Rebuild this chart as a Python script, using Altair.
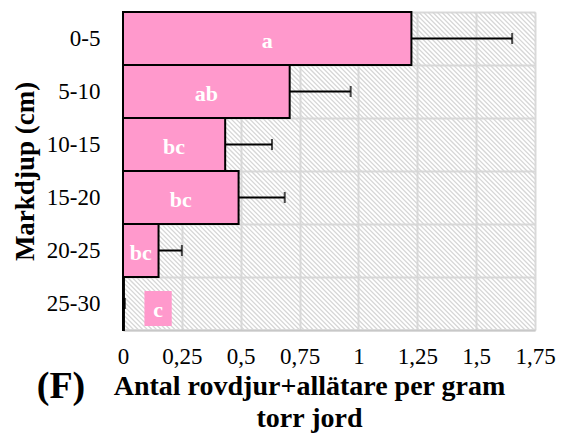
import altair as alt
import pandas as pd

# Mean number of predators + omnivores per gram dry soil, by soil depth
depths = ["0-5", "5-10", "10-15", "15-20", "20-25", "25-30"]
means = [1.225, 0.708, 0.434, 0.491, 0.151, 0.004]
upper = [1.653, 0.967, 0.633, 0.687, 0.250, 0.008]   # mean + standard error
letters = ["a", "ab", "bc", "bc", "bc", "c"]
x_ticks = [0, 0.25, 0.5, 0.75, 1, 1.25, 1.5, 1.75]

df = pd.DataFrame({"depth": depths, "mean": means, "upper": upper, "letter": letters})

FONT = "Liberation Serif"
PINK = "#ff99cc"
W, H = 412, 318

x_scale = alt.Scale(domain=[0, 1.75], nice=False, zero=True)
y_scale = alt.Scale(domain=depths, paddingInner=0, paddingOuter=0)

base = alt.Chart(df)

bars = base.mark_bar(color=PINK, stroke="black", strokeWidth=2).encode(
    x=alt.X(
        "mean:Q",
        scale=x_scale,
        axis=alt.Axis(
            values=x_ticks,
            labelExpr="replace(format(datum.value, '.2~f'), '.', ',')",
            grid=True,
            gridColor="#d9d9d9",
            gridWidth=2,
            ticks=False,
            domainColor="#c8c8c8",
            domainWidth=2,
            labelFont=FONT,
            labelFontSize=23,
            labelColor="black",
            labelPadding=15,
            labelFlush=False,
            title=["Antal rovdjur+allätare per gram", "torr jord"],
            titleFont=FONT,
            titleFontSize=28,
            titleFontWeight="bold",
            titleColor="black",
            titleLineHeight=32,
            titleX=186,
            titleY=42,
        ),
    ),
    y=alt.Y(
        "depth:N",
        scale=y_scale,
        sort=depths,
        axis=alt.Axis(
            grid=True,
            gridColor="#d9d9d9",
            gridWidth=2,
            tickBand="extent",
            ticks=False,
            domainColor="#c8c8c8",
            domainWidth=2,
            labelFont=FONT,
            labelFontSize=23,
            labelColor="black",
            labelPadding=23,
            title="Markdjup (cm)",
            titleFont=FONT,
            titleFontSize=27,
            titleFontWeight="bold",
            titleColor="black",
            titlePadding=7,
        ),
    ),
)

err = base.mark_rule(color="black", strokeWidth=2).encode(
    x=alt.X("mean:Q", scale=x_scale),
    x2="upper:Q",
    y=alt.Y("depth:N", scale=y_scale, sort=depths),
)

caps = base.mark_tick(color="black", thickness=2, size=11, orient="vertical").encode(
    x=alt.X("upper:Q", scale=x_scale),
    y=alt.Y("depth:N", scale=y_scale, sort=depths),
)

# Letter positions: centred in the bar, or just right of the axis when the bar is too thin
lab = base.transform_calculate(
    lx="datum.mean < 0.05 ? 0.149 : datum.mean / 2",
    bx1="datum.lx - 0.058",
    bx2="datum.lx + 0.058",
    thin="datum.mean < 0.05",
)

label_box = lab.transform_filter("datum.thin").mark_bar(color=PINK, size=35, yOffset=5).encode(
    x=alt.X("bx1:Q", scale=x_scale),
    x2="bx2:Q",
    y=alt.Y("depth:N", scale=y_scale, sort=depths),
)

text_style = dict(font=FONT, fontSize=22, fontWeight="bold", color="white", baseline="middle")

label_in_bar = lab.transform_filter("!datum.thin").mark_text(dy=2, **text_style).encode(
    x=alt.X("lx:Q", scale=x_scale),
    y=alt.Y("depth:N", scale=y_scale, sort=depths),
    text="letter:N",
)

label_in_box = lab.transform_filter("datum.thin").mark_text(dy=6, **text_style).encode(
    x=alt.X("lx:Q", scale=x_scale),
    y=alt.Y("depth:N", scale=y_scale, sort=depths),
    text="letter:N",
)

# Diagonal hatching of the plot background
hatch = (
    alt.Chart(alt.sequence(-330, 420, 4.6, as_="k"))
    .transform_calculate(k2="datum.k + 318", t="0", b="318")
    .mark_rule(color="#d6d6d6", strokeWidth=1.3, clip=True)
    .encode(
        x=alt.X("k:Q", scale=alt.Scale(domain=[0, W], nice=False, zero=False), axis=None),
        x2="k2:Q",
        y=alt.Y("t:Q", scale=alt.Scale(domain=[0, H], nice=False, reverse=True), axis=None),
        y2="b:Q",
    )
)

panel = (
    alt.Chart(pd.DataFrame({"tag": ["(F)"]}))
    .mark_text(font=FONT, fontSize=38, fontWeight="bold", color="black", align="center", baseline="middle")
    .encode(x=alt.value(-62), y=alt.value(375), text="tag:N")
)

main = alt.layer(bars, err, caps, label_box, label_in_bar, label_in_box)

chart = (
    alt.layer(hatch, main, panel)
    .resolve_scale(x="independent", y="independent")
    .properties(
        width=W,
        height=H,
        autosize=alt.AutoSizeParams(type="none"),
        padding={"left": 123, "top": 12, "right": 29, "bottom": 108},
    )
    .configure_view(stroke="black", strokeWidth=2)
    .configure(background="white")
)

chart.save("out.html", embed_options={"renderer": "svg", "actions": False})
